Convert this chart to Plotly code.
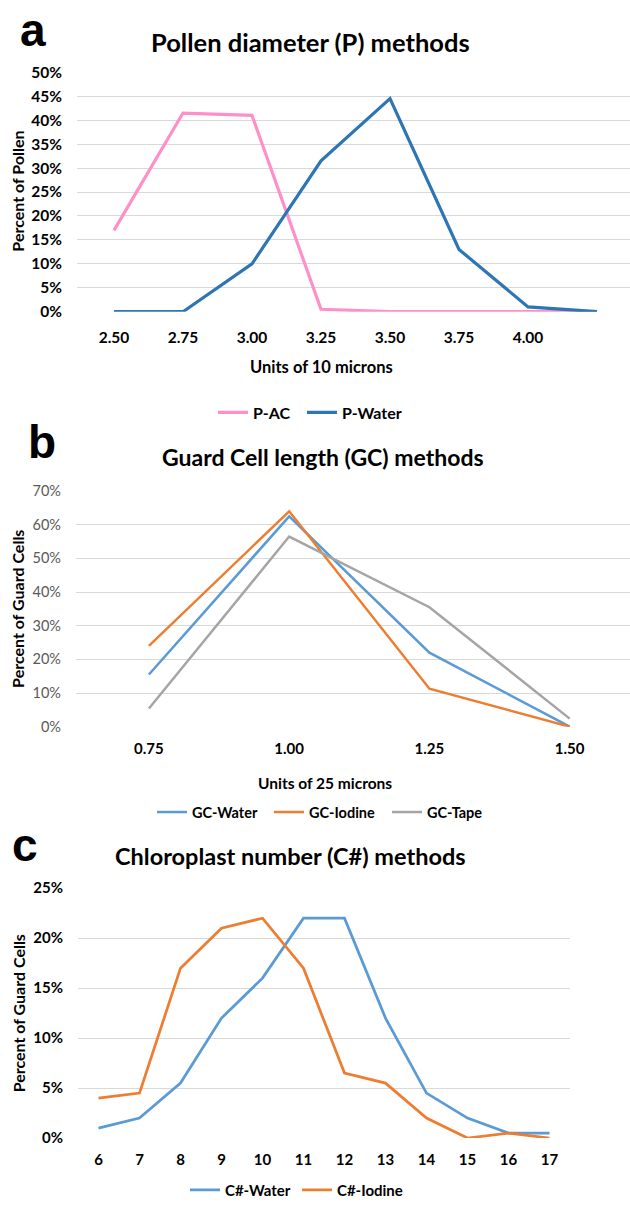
import plotly.graph_objects as go

W, H = 630, 1207
FONT = "Lato"

# ---------------- data ----------------
# Panel a: Pollen diameter
pollen_cats = ["2.50", "2.75", "3.00", "3.25", "3.50", "3.75", "4.00", "4.25"]
pollen_tick_labels = ["2.50", "2.75", "3.00", "3.25", "3.50", "3.75", "4.00"]
p_ac = [0.17, 0.415, 0.41, 0.005, 0.0, 0.0, 0.0, 0.0]
p_water = [0.0, 0.0, 0.10, 0.315, 0.445, 0.13, 0.01, 0.0]

# Panel b: Guard cell length
gc_cats = ["0.75", "1.00", "1.25", "1.50"]
gc_water = [0.155, 0.625, 0.22, 0.0]
gc_iodine = [0.24, 0.64, 0.113, 0.0]
gc_tape = [0.054, 0.565, 0.355, 0.024]

# Panel c: Chloroplast number
c_cats = ["6", "7", "8", "9", "10", "11", "12", "13", "14", "15", "16", "17"]
c_water = [0.01, 0.02, 0.055, 0.12, 0.16, 0.22, 0.22, 0.12, 0.045, 0.02, 0.005, 0.005]
c_iodine = [0.04, 0.045, 0.17, 0.21, 0.22, 0.17, 0.065, 0.055, 0.02, 0.0, 0.005, 0.0]

# ---------------- styles ----------------
PINK = "#FF8FC8"
DBLUE = "#2E75B6"
BLUE = "#5B9BD5"
ORANGE = "#ED7D31"
GRAY = "#A5A5A5"
GRID = "#D9D9D9"


def xd(a, b):
    return [a / W, b / W]


def yd(top, bottom):
    return [1 - bottom / H, 1 - top / H]


def bold(size, color="#000000"):
    return dict(family=FONT, size=size, color=color, weight="bold")


fig = go.Figure()

# (name, x, y, color, width, xaxis, yaxis, legend id, legend left px, legend center y px, legend font size)
series = [
    ("P-AC", pollen_cats, p_ac, PINK, 3.2, "x", "y", "legend", 213, 410, 16),
    ("P-Water", pollen_cats, p_water, DBLUE, 3.2, "x", "y", "legend2", 302, 410, 16),
    ("GC-Water", gc_cats, gc_water, BLUE, 2.5, "x2", "y2", "legend3", 152, 817, 14.5),
    ("GC-Iodine", gc_cats, gc_iodine, ORANGE, 2.5, "x2", "y2", "legend4", 269, 817, 14.5),
    ("GC-Tape", gc_cats, gc_tape, GRAY, 2.5, "x2", "y2", "legend5", 387, 817, 14.5),
    ("C#-Water", c_cats, c_water, BLUE, 2.75, "x3", "y3", "legend6", 185, 1202, 15),
    ("C#-Iodine", c_cats, c_iodine, ORANGE, 2.75, "x3", "y3", "legend7", 297, 1202, 15),
]

legends = {}
for name, xs, ys, color, lw, xa, ya, lg, lx, ly, fs in series:
    fig.add_trace(go.Scatter(x=xs, y=ys, name=name, mode="lines",
                             line=dict(color=color, width=lw), xaxis=xa, yaxis=ya, legend=lg))
    legends[lg] = dict(orientation="h", x=lx / W, y=1 - ly / H, xanchor="left", yanchor="middle",
                       font=bold(fs), bgcolor="rgba(0,0,0,0)", itemwidth=30)

common_x = dict(type="category", showgrid=False, zeroline=False, showline=False,
                ticks="", fixedrange=True)
common_y = dict(showgrid=True, gridcolor=GRID, gridwidth=1, zeroline=False,
                showline=False, ticks="", tickformat=".0%", ticklabelstandoff=14)

fig.update_layout(
    width=W, height=H,
    margin=dict(l=0, r=0, t=0, b=0),
    paper_bgcolor="white", plot_bgcolor="white",
    showlegend=True,
    xaxis=dict(common_x, domain=xd(77, 630), anchor="y",
               range=[-0.536, 7.478], categoryorder="array", categoryarray=pollen_cats,
               tickvals=pollen_tick_labels, ticktext=pollen_tick_labels,
               tickfont=bold(15.5), ticklabelstandoff=15),
    yaxis=dict(common_y, domain=yd(63.5, 307.3), anchor="x",
               range=[0, 0.5], dtick=0.05, tickfont=bold(15.5)),
    xaxis2=dict(common_x, domain=xd(76, 630), anchor="y2",
                range=[-0.52, 3.43], tickfont=bold(15), ticklabelstandoff=11),
    yaxis2=dict(common_y, domain=yd(490, 730), anchor="x2",
                range=[0, 0.7], dtick=0.1, tickfont=dict(family=FONT, size=14.5, color="#595959")),
    xaxis3=dict(common_x, domain=xd(78, 570), anchor="y3",
                range=[-0.5, 11.5], tickfont=bold(15), ticklabelstandoff=11),
    yaxis3=dict(common_y, domain=yd(894.5, 1149), anchor="x3",
                range=[0, 0.25], dtick=0.05, tickfont=bold(15)),
    **legends,
)


def ann(text, px, py, size, xanchor="center", angle=0, family=FONT):
    fig.add_annotation(text=text, x=px / W, y=1 - py / H, xref="paper", yref="paper",
                       xanchor=xanchor, yanchor="middle", showarrow=False, textangle=angle,
                       font=dict(family=family, size=size, color="#000000", weight="bold"))


# panel letters
ann("a", 33, 20, 46, family="Liberation Sans")
ann("b", 42, 440, 46, family="Liberation Sans")
ann("c", 25, 850, 46, family="Liberation Sans")

# titles
ann("Pollen diameter (P) methods", 310, 33, 25.5)
ann("Guard Cell length (GC) methods", 323, 455, 23)
ann("Chloroplast number (C#) methods", 290, 862, 23.5)

# axis titles
ann("Units of 10 microns", 321, 364, 16.5)
ann("Units of 25 microns", 325, 787, 15.5)
ann("Percent of Pollen", 18, 185, 16, angle=-90)
ann("Percent of Guard Cells", 18, 610, 16, angle=-90)
ann("Percent of Guard Cells", 18, 1022, 16, angle=-90)

fig.write_html("out.html")
